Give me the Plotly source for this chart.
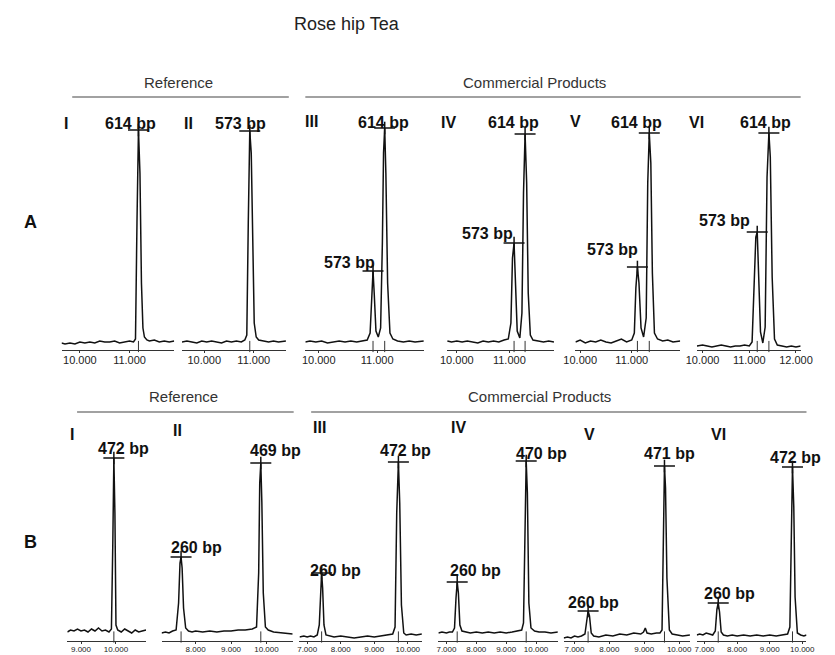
import plotly.graph_objects as go

# ---------------- DATA ----------------
TITLE = "Rose hip Tea"
ROW_LABELS = ["A", "B"]
PANEL_NUMERALS = ["I", "II", "III", "IV", "V", "VI"]
GROUP_LABELS = ["Reference", "Commercial Products"]

A_ticks = [10, 11, 12]
B_ticks = [7, 8, 9, 10]

# Row A (614 / 573 bp)
A1_time = [9.63, 9.70, 9.80, 9.90, 10.00, 10.10, 10.20, 10.30, 10.40, 10.50, 10.60, 10.70, 10.80, 10.90, 11.00, 11.08, 11.12, 11.15, 11.18, 11.21, 11.24, 11.27, 11.30, 11.35, 11.40, 11.50, 11.60, 11.70, 11.80, 11.90]
A1_signal = [0, -1, 0, -1, 1, 0, 1, 0, 2, 1, 1, 2, 0, 1, 2, 1, 4, 120, 213, 170, 60, 15, 6, 3, 2, 3, 1, 2, 1, 2]
A1_peak_time = [11.18]
A1_peak_signal = [213]
A1_peak_label = ["614 bp"]

A2_time = [9.55, 9.65, 9.75, 9.85, 9.95, 10.05, 10.15, 10.25, 10.35, 10.45, 10.55, 10.65, 10.75, 10.82, 10.86, 10.89, 10.92, 10.95, 10.98, 11.01, 11.05, 11.10, 11.20, 11.30, 11.40, 11.50, 11.65]
A2_signal = [1, 2, 1, 0, 2, 1, 2, 1, 0, 2, 1, 2, 1, 3, 8, 120, 212, 190, 90, 20, 6, 3, 2, 1, 2, 1, 2]
A2_peak_time = [10.92]
A2_peak_signal = [212]
A2_peak_label = ["573 bp"]

A3_time = [9.77, 9.85, 9.95, 10.05, 10.15, 10.25, 10.35, 10.45, 10.55, 10.65, 10.75, 10.83, 10.88, 10.91, 10.93, 10.95, 10.98, 11.02, 11.06, 11.09, 11.11, 11.13, 11.15, 11.18, 11.22, 11.27, 11.35, 11.45, 11.55, 11.65, 11.80]
A3_signal = [1, 2, 1, 2, 0, 1, 2, 1, 2, 1, 2, 3, 10, 55, 72, 50, 12, 6, 15, 100, 190, 215, 170, 60, 10, 4, 2, 1, 2, 1, 2]
A3_peak_time = [10.93, 11.13]
A3_peak_signal = [72, 215]
A3_peak_label = ["573 bp", "614 bp"]

A4_time = [9.82, 9.90, 10.00, 10.10, 10.20, 10.30, 10.40, 10.50, 10.60, 10.70, 10.80, 10.90, 10.98, 11.03, 11.06, 11.09, 11.12, 11.15, 11.20, 11.24, 11.27, 11.30, 11.33, 11.36, 11.40, 11.45, 11.55, 11.65, 11.75, 11.85]
A4_signal = [2, 1, 2, 1, 2, 1, 0, 2, 1, 2, 1, 3, 4, 20, 85, 100, 55, 12, 5, 30, 150, 209, 160, 50, 8, 3, 2, 1, 2, 1]
A4_peak_time = [11.09, 11.30]
A4_peak_signal = [100, 209]
A4_peak_label = ["573 bp", "614 bp"]

A5_time = [9.91, 10.00, 10.10, 10.20, 10.30, 10.40, 10.50, 10.60, 10.70, 10.80, 10.90, 11.00, 11.05, 11.08, 11.11, 11.14, 11.18, 11.23, 11.28, 11.31, 11.34, 11.37, 11.40, 11.44, 11.50, 11.60, 11.70, 11.80, 11.94]
A5_signal = [1, 3, 0, 2, 1, 3, 1, 0, 2, 4, 1, 3, 10, 55, 76, 60, 15, 6, 25, 160, 210, 180, 70, 10, 4, 2, 3, 1, 2]
A5_peak_time = [11.11, 11.34]
A5_peak_signal = [76, 210]
A5_peak_label = ["573 bp", "614 bp"]

A6_time = [9.88, 10.00, 10.10, 10.20, 10.30, 10.40, 10.50, 10.60, 10.70, 10.80, 10.90, 11.00, 11.06, 11.11, 11.14, 11.17, 11.20, 11.24, 11.29, 11.34, 11.38, 11.42, 11.45, 11.49, 11.54, 11.60, 11.70, 11.80, 11.90, 12.00, 12.10]
A6_signal = [-3, -2, -3, -4, -3, -2, -3, -4, -3, -3, -2, -3, 1, 56, 106, 111, 76, 11, 0, 16, 166, 210, 186, 66, 4, -2, -3, -4, -3, -4, -3]
A6_peak_time = [11.17, 11.42]
A6_peak_signal = [111, 210]
A6_peak_label = ["573 bp", "614 bp"]

# Row B (472 / 260 bp)
B1_time = [8.61, 8.70, 8.80, 8.90, 9.00, 9.10, 9.20, 9.30, 9.40, 9.50, 9.60, 9.70, 9.80, 9.87, 9.91, 9.94, 9.97, 10.00, 10.05, 10.15, 10.25, 10.35, 10.45, 10.55, 10.65, 10.75, 10.86]
B1_signal = [1, 3, 2, 4, 2, 3, 1, 4, 2, 5, 2, 3, 1, 4, 90, 175, 120, 8, 3, 1, 4, 2, 0, 3, 1, 2, 3]
B1_peak_time = [9.94]
B1_peak_signal = [175]
B1_peak_label = ["472 bp"]

B2_time = [7.04, 7.15, 7.25, 7.35, 7.45, 7.52, 7.56, 7.59, 7.62, 7.66, 7.72, 7.80, 7.90, 8.00, 8.20, 8.40, 8.60, 8.80, 9.00, 9.20, 9.40, 9.60, 9.72, 9.78, 9.81, 9.84, 9.87, 9.91, 9.97, 10.05, 10.20, 10.40, 10.60, 10.74]
B2_signal = [0, 1, 0, 2, 3, 30, 70, 76, 65, 25, 5, 2, 1, 2, 1, 2, 1, 2, 2, 3, 3, 4, 6, 60, 150, 170, 130, 40, 6, 3, 1, 0, -1, -1]
B2_peak_time = [7.59, 9.84]
B2_peak_signal = [76, 170]
B2_peak_label = ["260 bp", "469 bp"]

B3_time = [6.77, 6.90, 7.00, 7.10, 7.20, 7.30, 7.36, 7.40, 7.43, 7.46, 7.50, 7.56, 7.65, 7.80, 8.00, 8.20, 8.40, 8.60, 8.80, 9.00, 9.20, 9.40, 9.55, 9.62, 9.67, 9.72, 9.76, 9.81, 9.88, 9.95, 10.10, 10.25, 10.42]
B3_signal = [-4, -3, -4, -3, -4, -2, 8, 50, 60, 45, 8, -2, -3, -4, -3, -4, -5, -4, -3, -4, -3, -2, -1, 6, 120, 171, 130, 28, 0, -2, -1, -2, -1]
B3_peak_time = [7.43, 9.72]
B3_peak_signal = [60, 171]
B3_peak_label = ["260 bp", "472 bp"]

B4_time = [6.73, 6.85, 7.00, 7.10, 7.20, 7.27, 7.32, 7.36, 7.40, 7.45, 7.52, 7.65, 7.80, 8.00, 8.20, 8.40, 8.60, 8.80, 9.00, 9.20, 9.40, 9.52, 9.58, 9.63, 9.67, 9.71, 9.76, 9.83, 9.95, 10.10, 10.30, 10.50, 10.73]
B4_signal = [0, 1, 0, 1, 1, 5, 35, 51, 40, 8, 2, 1, 0, 1, 0, 1, 0, 1, 0, 1, 2, 3, 10, 120, 172, 140, 30, 5, 2, 1, 1, 0, 1]
B4_peak_time = [7.36, 9.67]
B4_peak_signal = [51, 172]
B4_peak_label = ["260 bp", "470 bp"]

B5_time = [6.69, 6.80, 6.90, 7.00, 7.10, 7.20, 7.30, 7.35, 7.39, 7.43, 7.48, 7.55, 7.70, 7.90, 8.10, 8.30, 8.50, 8.70, 8.90, 8.98, 9.03, 9.08, 9.20, 9.35, 9.45, 9.51, 9.55, 9.58, 9.61, 9.65, 9.72, 9.80, 9.95, 10.10, 10.31]
B5_signal = [-5, -4, -5, -3, -4, -3, -1, 15, 22, 17, 0, -3, -4, -2, -3, -1, -2, 0, -1, 1, 5, 0, -1, 0, 0, 3, 95, 167, 145, 55, 3, -1, -2, -3, -2]
B5_peak_time = [7.39, 9.58]
B5_peak_signal = [22, 167]
B5_peak_label = ["260 bp", "471 bp"]

B6_time = [6.76, 6.85, 6.95, 7.05, 7.15, 7.25, 7.33, 7.38, 7.42, 7.46, 7.51, 7.58, 7.70, 7.85, 8.00, 8.20, 8.40, 8.60, 8.80, 9.00, 9.20, 9.40, 9.55, 9.62, 9.66, 9.70, 9.74, 9.78, 9.85, 9.95, 10.05, 10.13]
B6_signal = [-2, -1, -2, 0, -1, -2, 2, 24, 30, 21, 1, -2, -3, -2, -3, -2, -3, -2, -3, -2, -3, -2, -1, 6, 116, 166, 126, 36, 0, -2, -3, -2]
B6_peak_time = [7.42, 9.70]
B6_peak_signal = [30, 166]
B6_peak_label = ["260 bp", "472 bp"]

# ---------------- LAYOUT / STYLE ----------------
W, H = 835, 655
FONT = "Liberation Sans, Arial, sans-serif"


def fx(x):
    return x / W


def fy(y):
    return 1 - y / H


ROWS = {
    0: dict(yd=(115, 350), yr=[-7, 228], ticks=A_ticks, tsize=11, stand=-2),
    1: dict(yd=(440, 641), yr=[-8, 193], ticks=B_ticks, tsize=8, stand=-2),
}

panels = [
    # row A
    dict(t=A1_time, s=A1_signal, pt=A1_peak_time, ps=A1_peak_signal, pl=A1_peak_label, row=0,
         xr=[9.63, 11.90], xd=(51, 167), num=(56, 123), lab=[(122, 123)]),
    dict(t=A2_time, s=A2_signal, pt=A2_peak_time, ps=A2_peak_signal, pl=A2_peak_label, row=0,
         xr=[9.55, 11.65], xd=(175, 282), num=(182, 123), lab=[(235, 123)]),
    dict(t=A3_time, s=A3_signal, pt=A3_peak_time, ps=A3_peak_signal, pl=A3_peak_label, row=0,
         xr=[9.77, 11.80], xd=(302, 424), num=(308, 121), lab=[(347, 262), (382, 122)]),
    dict(t=A4_time, s=A4_signal, pt=A4_peak_time, ps=A4_peak_signal, pl=A4_peak_label, row=0,
         xr=[9.815, 11.85], xd=(448, 558), num=(449, 122), lab=[(490, 233), (516, 122)]),
    dict(t=A5_time, s=A5_signal, pt=A5_peak_time, ps=A5_peak_signal, pl=A5_peak_label, row=0,
         xr=[9.906, 11.94], xd=(580, 688), num=(580, 121), lab=[(618, 250), (643, 122)]),
    dict(t=A6_time, s=A6_signal, pt=A6_peak_time, ps=A6_peak_signal, pl=A6_peak_label, row=0,
         xr=[9.875, 12.10], xd=(705, 812), num=(705, 122), lab=[(734, 220), (776, 122)]),
    # row B
    dict(t=B1_time, s=B1_signal, pt=B1_peak_time, ps=B1_peak_signal, pl=B1_peak_label, row=1,
         xr=[8.61, 10.86], xd=(57, 138), num=(62, 434), lab=[(115, 448)]),
    dict(t=B2_time, s=B2_signal, pt=B2_peak_time, ps=B2_peak_signal, pl=B2_peak_label, row=1,
         xr=[7.04, 10.74], xd=(154, 289), num=(170, 430), lab=[(190, 547), (271, 450)]),
    dict(t=B3_time, s=B3_signal, pt=B3_peak_time, ps=B3_peak_signal, pl=B3_peak_label, row=1,
         xr=[6.77, 10.42], xd=(296, 422), num=(317, 428), lab=[(333, 570), (405, 450)]),
    dict(t=B4_time, s=B4_signal, pt=B4_peak_time, ps=B4_peak_signal, pl=B4_peak_label, row=1,
         xr=[6.73, 10.73], xd=(439, 562), num=(460, 428), lab=[(477, 570), (545, 453)]),
    dict(t=B5_time, s=B5_signal, pt=B5_peak_time, ps=B5_peak_signal, pl=B5_peak_label, row=1,
         xr=[6.69, 10.31], xd=(568, 698), num=(595, 434), lab=[(599, 602), (677, 453)]),
    dict(t=B6_time, s=B6_signal, pt=B6_peak_time, ps=B6_peak_signal, pl=B6_peak_label, row=1,
         xr=[6.76, 10.13], xd=(705, 818), num=(727, 434), lab=[(739, 593), (807, 457)]),
]

fig = go.Figure()
layout = {}
annotations = []
INK = "#111111"

for i, p in enumerate(panels, start=1):
    xa = "x" if i == 1 else f"x{i}"
    ya = "y" if i == 1 else f"y{i}"
    xk = "xaxis" if i == 1 else f"xaxis{i}"
    yk = "yaxis" if i == 1 else f"yaxis{i}"
    r = ROWS[p["row"]]

    fig.add_trace(go.Scatter(
        x=p["t"], y=p["s"], mode="lines",
        line=dict(color=INK, width=1.5),
        xaxis=xa, yaxis=ya, showlegend=False, hoverinfo="skip"))
    # integration marks below the baseline at each peak
    fig.add_trace(go.Scatter(
        x=p["pt"], y=[r["yr"][0] / 2] * len(p["pt"]), mode="markers",
        marker=dict(symbol="line-ns", size=8, line=dict(color="#333333", width=1)),
        xaxis=xa, yaxis=ya, showlegend=False, hoverinfo="skip", cliponaxis=False))
    # peak-apex cross markers
    fig.add_trace(go.Scatter(
        x=p["pt"], y=p["ps"], mode="markers",
        marker=dict(symbol="line-ew", size=15, line=dict(color=INK, width=1.5)),
        xaxis=xa, yaxis=ya, showlegend=False, hoverinfo="skip", cliponaxis=False))
    fig.add_trace(go.Scatter(
        x=p["pt"], y=p["ps"], mode="markers",
        marker=dict(symbol="line-ns", size=9, line=dict(color=INK, width=1.5)),
        xaxis=xa, yaxis=ya, showlegend=False, hoverinfo="skip", cliponaxis=False))

    layout[xk] = dict(
        domain=[fx(p["xd"][0]), fx(p["xd"][1])], range=p["xr"], anchor=ya,
        tickvals=r["ticks"], tickformat=".3f",
        showline=True, linecolor="#333333", linewidth=1,
        ticks="outside", ticklen=2, tickcolor="#333333",
        ticklabelstandoff=r["stand"],
        tickfont=dict(family=FONT, size=r["tsize"], color="#222222"),
        showgrid=False, zeroline=False, fixedrange=True)
    layout[yk] = dict(
        domain=[fy(r["yd"][1]), fy(r["yd"][0])], range=r["yr"], anchor=xa,
        visible=False, showgrid=False, zeroline=False, fixedrange=True)

    # panel numeral
    annotations.append(dict(
        x=fx(p["num"][0]), y=fy(p["num"][1]), xref="paper", yref="paper",
        text=f"<b>{PANEL_NUMERALS[(i - 1) % 6]}</b>", showarrow=False,
        xanchor="center", yanchor="middle",
        font=dict(family=FONT, size=16, color=INK)))
    # peak labels
    for lbl, (lx, ly) in zip(p["pl"], p["lab"]):
        annotations.append(dict(
            x=fx(lx), y=fy(ly), xref="paper", yref="paper",
            text=f"<b>{lbl}</b>", showarrow=False,
            xanchor="center", yanchor="middle",
            font=dict(family=FONT, size=16, color=INK)))

# title
annotations.append(dict(x=fx(345), y=fy(24), xref="paper", yref="paper", text=TITLE,
                        showarrow=False, xanchor="center", yanchor="middle",
                        font=dict(family=FONT, size=18, color="#222222")))
# row labels
for lbl, yy in zip(ROW_LABELS, [222, 542]):
    annotations.append(dict(x=fx(19), y=fy(yy), xref="paper", yref="paper",
                            text=f"<b>{lbl}</b>", showarrow=False,
                            xanchor="center", yanchor="middle",
                            font=dict(family=FONT, size=18, color=INK)))

# group headers with rules
groups = [
    (GROUP_LABELS[0], 171, 83, 62, 285, 97),
    (GROUP_LABELS[1], 538, 82, 302, 812, 97),
    (GROUP_LABELS[0], 177, 396, 67, 290, 412),
    (GROUP_LABELS[1], 543, 396, 308, 818, 412),
]
shapes = []
for text, tx, ty, x0, x1, ly in groups:
    annotations.append(dict(x=fx(tx), y=fy(ty), xref="paper", yref="paper", text=text,
                            showarrow=False, xanchor="center", yanchor="middle",
                            font=dict(family=FONT, size=15, color="#333333")))
    shapes.append(dict(type="line", xref="paper", yref="paper",
                       x0=fx(x0), x1=fx(x1), y0=fy(ly), y1=fy(ly),
                       line=dict(color="#444444", width=1.2)))

fig.update_layout(
    width=W, height=H, autosize=False,
    margin=dict(l=0, r=0, t=0, b=0),
    paper_bgcolor="white", plot_bgcolor="white",
    showlegend=False,
    annotations=annotations, shapes=shapes,
    **layout)

fig.write_html(
    "out.html",
    config={"displayModeBar": False, "staticPlot": True},
    post_script="document.body.style.margin='0';document.body.style.overflow='hidden';")
